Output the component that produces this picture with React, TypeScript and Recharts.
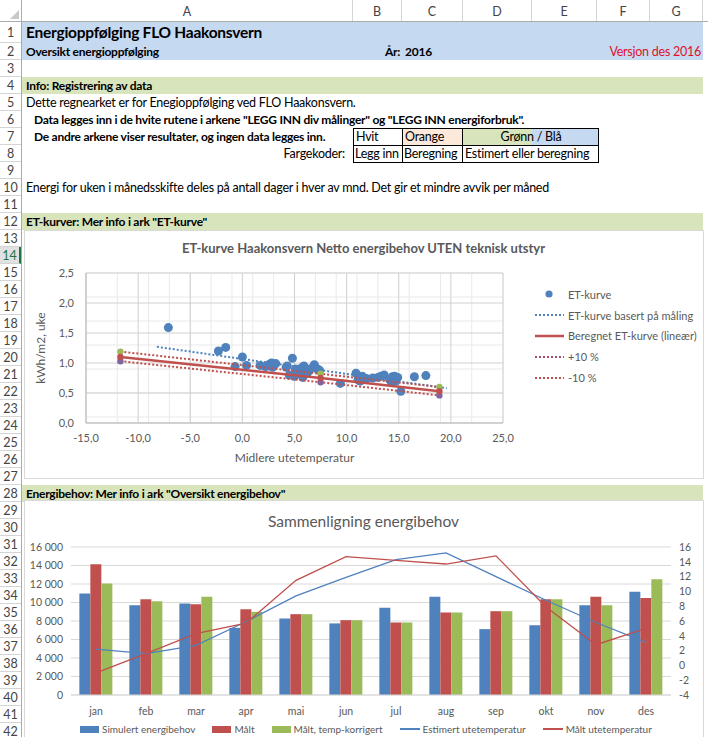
import React from "react";
import {
  ComposedChart,
  Scatter,
  Bar,
  Line,
  XAxis,
  YAxis,
  ZAxis,
  CartesianGrid,
  Legend,
} from "recharts";

const FONT = "Lato, 'Liberation Sans', sans-serif";
const BLUE = "#4f81bd";
const RED = "#c0504d";
const GREEN = "#9bbb59";
const PURPLE = "#8064a2";
const AXIS_TEXT = "#595959";

// ---- ET-kurve (målte ukepunkter) ----
const etTemp = [
  -7.1, -2.3, -1.6, -0.7, 0.0, 0.4, 1.7, 2.2, 2.4, 2.6, 2.8, 2.9, 3.0, 3.2,
  4.2, 4.3, 4.5, 4.8, 5.0, 5.1, 5.5, 5.6, 5.7, 5.8, 5.9, 6.0, 6.3, 6.6, 6.9,
  7.2, 7.4, 9.4, 10.9, 11.1, 11.3, 11.5, 11.9, 12.5, 13.0, 13.3, 13.6, 14.1,
  14.3, 14.4, 14.6, 14.7, 14.9, 15.2, 16.5, 17.6,
];
const etValue = [
  1.59, 1.2, 1.26, 0.94, 1.1, 0.96, 0.96, 0.94, 0.95, 0.98, 1.0, 0.93, 0.96,
  0.99, 0.93, 0.95, 0.8, 1.08, 0.78, 0.9, 0.87, 0.82, 0.92, 0.76, 0.95, 0.9,
  0.85, 0.91, 0.97, 0.9, 0.88, 0.66, 0.83, 0.72, 0.7, 0.78, 0.74, 0.75, 0.76,
  0.78, 0.8, 0.73, 0.68, 0.77, 0.78, 0.7, 0.76, 0.53, 0.77, 0.79,
];

// trendlinje basert på måling
const trendTemp = [-8.2, 19.6];
const trendValue = [1.27, 0.58];

// beregnet ET-kurve med +/- 10 %
const fitTemp = [-11.7, 7.5, 18.9];
const fitValue = [1.1, 0.75, 0.53];
const plusValue = [1.19, 0.82, 0.6];
const minusValue = [1.03, 0.68, 0.46];

const etXTicks = [-15, -10, -5, 0, 5, 10, 15, 20, 25];
const etYTicks = [0, 0.5, 1.0, 1.5, 2.0, 2.5];
const etXMinor = Array.from({ length: 41 }, (_, i) => i - 15);
const etYMinor = Array.from({ length: 26 }, (_, i) => Math.round(i * 10) / 100);

const etSeries = [
  "ET-kurve",
  "ET-kurve basert på måling",
  "Beregnet ET-kurve (lineær)",
  "+10 %",
  "-10 %",
];

// ---- Sammenligning energibehov ----
const months = ["jan", "feb", "mar", "apr", "mai", "jun", "jul", "aug", "sep", "okt", "nov", "des"];
const simulert = [10980, 9710, 9890, 7260, 8270, 7740, 9420, 10610, 7120, 7550, 9710, 11150];
const maalt = [14130, 10360, 9820, 9280, 8740, 8090, 7840, 8920, 9060, 10360, 10610, 10500];
const korrigert = [12050, 10140, 10610, 8990, 8740, 8090, 7840, 8920, 9060, 10360, 9710, 12520];
const estTemp = [2.2, 1.6, 2.7, 5.9, 9.4, 11.9, 14.3, 15.2, 12.0, 8.8, 5.8, 3.1];
const maaltTemp = [-1.0, 1.6, 4.3, 5.7, 11.5, 14.7, 14.2, 13.7, 14.8, 7.9, 2.8, 5.0];

const energyLeftTicks = [0, 2000, 4000, 6000, 8000, 10000, 12000, 14000, 16000];
const energyRightTicks = [-4, -2, 0, 2, 4, 6, 8, 10, 12, 14, 16];
const energySeries = [
  "Simulert energibehov",
  "Målt",
  "Målt, temp-korrigert",
  "Estimert utetemperatur",
  "Målt utetemperatur",
];

const etPoints = etTemp.map((t, i) => ({ t, v: etValue[i] }));
const trendPoints = trendTemp.map((t, i) => ({ t, v: trendValue[i] }));
const fitPoints = fitTemp.map((t, i) => ({ t, v: fitValue[i] }));
const plusPoints = fitTemp.map((t, i) => ({ t, v: plusValue[i] }));
const minusPoints = fitTemp.map((t, i) => ({ t, v: minusValue[i] }));

const energyRows = months.map((m, i) => ({
  month: m,
  sim: simulert[i],
  maalt: maalt[i],
  korr: korrigert[i],
  est: estTemp[i],
  mt: maaltTemp[i],
}));

const comma1 = (v: number) => v.toFixed(1).replace(".", ",");
const thousands = (v: number) =>
  v >= 1000 ? `${Math.floor(v / 1000)} ${String(v % 1000).padStart(3, "0")}` : String(v);

// ---- spreadsheet grid ----
const COL_EDGES = [22, 353, 402, 463, 532, 597, 650, 703];
const COLS = ["A", "B", "C", "D", "E", "F", "G"];
const ROWS = Array.from({ length: 42 }, (_, i) => i + 1);
const rowTop = (n: number) => (n === 1 ? 22 : 43 + (n - 2) * 17);
const rowH = (n: number) => (n === 1 ? 21 : 17);

function Txt(props: {
  row: number;
  x: number;
  w?: number;
  align?: "left" | "right" | "center";
  bold?: boolean;
  size?: number;
  color?: string;
  children: React.ReactNode;
}) {
  const { row, x, w = 600, align = "left", bold, size = 12.5, color = "#000" } = props;
  return (
    <div
      style={{
        position: "absolute",
        left: x,
        width: w,
        top: rowTop(row),
        height: rowH(row),
        lineHeight: `${rowH(row)}px`,
        fontSize: size,
        fontWeight: bold ? 700 : 400,
        color,
        textAlign: align,
        whiteSpace: "nowrap",
        letterSpacing: -0.25,
      }}
    >
      {props.children}
    </div>
  );
}

function Band({ row, color }: { row: number; color: string }) {
  return (
    <div
      style={{
        position: "absolute",
        left: 22,
        width: 681,
        top: rowTop(row),
        height: rowH(row),
        background: color,
      }}
    />
  );
}

const NoDot = () => null;
const markDot = (color: string) => (p: any) =>
  <circle cx={p.cx} cy={p.cy} r={3.2} fill={color} />;

function EtLegend() {
  const styles = [
    { kind: "dot", color: BLUE, dash: "" },
    { kind: "line", color: BLUE, dash: "2 2", w: 2 },
    { kind: "line", color: RED, dash: "", w: 2.5 },
    { kind: "line", color: "#a84a6a", dash: "2 2", w: 2 },
    { kind: "line", color: RED, dash: "2 2", w: 2 },
  ];
  return (
    <div style={{ fontFamily: FONT, fontSize: 11, color: AXIS_TEXT }}>
      {etSeries.map((name, i) => (
        <div key={name} style={{ display: "flex", alignItems: "center", height: 20.8 }}>
          <svg width={30} height={10} style={{ marginRight: 3 }}>
            {styles[i].kind === "dot" ? (
              <circle cx={14} cy={5} r={3.6} fill={styles[i].color} />
            ) : (
              <line
                x1={0}
                x2={29}
                y1={5}
                y2={5}
                stroke={styles[i].color}
                strokeWidth={styles[i].w}
                strokeDasharray={styles[i].dash || undefined}
              />
            )}
          </svg>
          <span>{name}</span>
        </div>
      ))}
    </div>
  );
}

function EnergyLegend() {
  const colors = [BLUE, RED, GREEN, BLUE, RED];
  return (
    <div
      style={{
        display: "flex",
        fontFamily: FONT,
        fontSize: 10,
        color: AXIS_TEXT,
        alignItems: "center",
        whiteSpace: "nowrap",
      }}
    >
      {energySeries.map((name, i) => (
        <div key={name} style={{ display: "flex", alignItems: "center", marginRight: 17 }}>
          {i < 3 ? (
            <div style={{ width: 19, height: 7, background: colors[i], marginRight: 3 }} />
          ) : (
            <div style={{ width: 20, height: 1.5, background: colors[i], marginRight: 3 }} />
          )}
          <span>{name}</span>
        </div>
      ))}
    </div>
  );
}

function EtChart() {
  return (
    <ComposedChart
      width={679}
      height={248}
      margin={{ top: 43, right: 200, bottom: 0, left: 0 }}
      style={{ fontFamily: FONT }}
    >
      <XAxis xAxisId="minor" type="number" dataKey="t" domain={[-15, 25]} ticks={etXMinor} hide allowDataOverflow />
      <YAxis yAxisId="minor" type="number" dataKey="v" domain={[0, 2.5]} ticks={etYMinor} hide allowDataOverflow />
      <CartesianGrid xAxisId="minor" yAxisId="minor" stroke="#e9e9e9" />
      <CartesianGrid stroke="#d0d0d0" />
      <XAxis
        type="number"
        dataKey="t"
        domain={[-15, 25]}
        ticks={etXTicks}
        interval={0}
        tickFormatter={comma1}
        tick={{ fill: AXIS_TEXT, fontSize: 11 }}
        tickLine={false}
        axisLine={{ stroke: "#bfbfbf" }}
        tickSize={9}
        height={55}
        allowDataOverflow
        label={(p: any) => (
          <text
            x={p.viewBox.x + p.viewBox.width / 2}
            y={p.viewBox.y + 39}
            textAnchor="middle"
            fill={AXIS_TEXT}
            fontSize={12}
            fontFamily={FONT}
          >
            Midlere utetemperatur
          </text>
        )}
      />
      <YAxis
        type="number"
        dataKey="v"
        domain={[0, 2.5]}
        ticks={etYTicks}
        interval={0}
        tickFormatter={comma1}
        tick={{ fill: AXIS_TEXT, fontSize: 11 }}
        tickLine={false}
        axisLine={{ stroke: "#bfbfbf" }}
        tickSize={10}
        width={62}
        allowDataOverflow
        label={(p: any) => (
          <text
            x={16}
            y={p.viewBox.y + p.viewBox.height / 2}
            transform={`rotate(-90 16 ${p.viewBox.y + p.viewBox.height / 2})`}
            textAnchor="middle"
            dominantBaseline="central"
            fill={AXIS_TEXT}
            fontSize={12}
            fontFamily={FONT}
          >
            kWh/m2, uke
          </text>
        )}
      />
      <ZAxis type="number" range={[44, 44]} />
      <Scatter name={etSeries[0]} data={etPoints} fill={BLUE} isAnimationActive={false} />
      <Scatter
        name={etSeries[1]}
        data={trendPoints}
        line={{ stroke: BLUE, strokeWidth: 2, strokeDasharray: "2 2" }}
        shape={NoDot}
        isAnimationActive={false}
      />
      <Scatter
        name={etSeries[3]}
        data={plusPoints}
        line={{ stroke: "#c0504d", strokeWidth: 2, strokeDasharray: "2 2" }}
        shape={markDot(GREEN)}
        isAnimationActive={false}
      />
      <Scatter
        name={etSeries[4]}
        data={minusPoints}
        line={{ stroke: "#c0504d", strokeWidth: 2, strokeDasharray: "2 2" }}
        shape={markDot(PURPLE)}
        isAnimationActive={false}
      />
      <Scatter
        name={etSeries[2]}
        data={fitPoints}
        line={{ stroke: RED, strokeWidth: 2.5 }}
        shape={markDot(RED)}
        isAnimationActive={false}
      />
      <Legend
        layout="horizontal"
        verticalAlign="middle"
        align="center"
        wrapperStyle={{ top: 54, left: 511, width: 170 }}
        content={() => <EtLegend />}
      />
    </ComposedChart>
  );
}

function EnergyChart() {
  return (
    <ComposedChart
      width={679}
      height={250}
      data={energyRows}
      margin={{ top: 47, right: 0, bottom: 25, left: 0 }}
      barCategoryGap="16.7%"
      barGap={0}
      style={{ fontFamily: FONT }}
    >
      <CartesianGrid vertical={false} yAxisId="left" stroke="#d9d9d9" />
      <XAxis
        dataKey="month"
        tick={{ fill: AXIS_TEXT, fontSize: 10.5 }}
        tickLine={false}
        axisLine={{ stroke: "#d9d9d9" }}
        tickMargin={7}
        height={30}
        interval={0}
      />
      <YAxis
        yAxisId="left"
        domain={[0, 16000]}
        ticks={energyLeftTicks}
        interval={0}
        tickFormatter={thousands}
        tick={{ fill: AXIS_TEXT, fontSize: 10.5 }}
        tickLine={false}
        axisLine={false}
        width={47}
      />
      <YAxis
        yAxisId="right"
        orientation="right"
        domain={[-4, 16]}
        ticks={energyRightTicks}
        interval={0}
        tick={{ fill: AXIS_TEXT, fontSize: 10.5 }}
        tickLine={false}
        axisLine={false}
        width={32}
      />
      <Bar yAxisId="left" dataKey="sim" name={energySeries[0]} fill={BLUE} isAnimationActive={false} />
      <Bar yAxisId="left" dataKey="maalt" name={energySeries[1]} fill={RED} isAnimationActive={false} />
      <Bar yAxisId="left" dataKey="korr" name={energySeries[2]} fill={GREEN} isAnimationActive={false} />
      <Line
        yAxisId="right"
        dataKey="est"
        name={energySeries[3]}
        stroke={BLUE}
        strokeWidth={1.3}
        dot={false}
        type="linear"
        isAnimationActive={false}
      />
      <Line
        yAxisId="right"
        dataKey="mt"
        name={energySeries[4]}
        stroke={RED}
        strokeWidth={1.3}
        dot={false}
        type="linear"
        isAnimationActive={false}
      />
      <Legend
        layout="horizontal"
        verticalAlign="middle"
        align="center"
        wrapperStyle={{ top: 223, left: 56, width: 620 }}
        content={() => <EnergyLegend />}
      />
    </ComposedChart>
  );
}

export default function App() {
  return (
    <div
      style={{
        position: "fixed",
        left: 0,
        top: 0,
        width: 708,
        height: 737,
        overflow: "hidden",
        background: "#fff",
        fontFamily: FONT,
      }}
    >
      {/* column headers */}
      <div style={{ position: "absolute", left: 0, top: 0, width: 708, height: 22, borderBottom: "1px solid #ababab", boxSizing: "border-box" }} />
      <svg style={{ position: "absolute", left: 0, top: 0 }} width={22} height={22}>
        <polygon points="19,10 19,19 10,19" fill="#c8c8c8" />
      </svg>
      {COLS.map((c, i) => (
        <div
          key={c}
          style={{
            position: "absolute",
            left: COL_EDGES[i],
            width: COL_EDGES[i + 1] - COL_EDGES[i],
            top: 0,
            height: 21,
            lineHeight: "23px",
            textAlign: "center",
            fontSize: 12.5,
            color: "#444",
            borderRight: "1px solid #d4d4d4",
            boxSizing: "border-box",
          }}
        >
          {c}
        </div>
      ))}

      {/* row headers */}
      <div style={{ position: "absolute", left: 21, top: 0, width: 1, height: 737, background: "#ababab" }} />
      {ROWS.map((r) => (
        <div
          key={r}
          style={{
            position: "absolute",
            left: 0,
            width: 21,
            top: rowTop(r),
            height: rowH(r),
            lineHeight: `${rowH(r)}px`,
            textAlign: "center",
            fontSize: 12.5,
            color: r === 14 ? "#217346" : "#444",
            background: r === 14 ? "#e1e1e1" : "transparent",
            borderBottom: "1px solid #d4d4d4",
            borderRight: r === 14 ? "2px solid #217346" : "none",
            boxSizing: "border-box",
          }}
        >
          {r}
        </div>
      ))}

      {/* bands */}
      <Band row={1} color="#c5d9f1" />
      <Band row={2} color="#c5d9f1" />
      <Band row={4} color="#d8e4bc" />
      <Band row={12} color="#d8e4bc" />
      <Band row={28} color="#d8e4bc" />

      <Txt row={1} x={26} bold size={15.5}>Energioppfølging FLO Haakonsvern</Txt>
      <Txt row={2} x={26} bold size={12}>Oversikt energioppfølging</Txt>
      <Txt row={2} x={385} bold size={12}>År:</Txt>
      <Txt row={2} x={405} bold size={12}>2016</Txt>
      <Txt row={2} x={400} w={301} align="right" size={12.5} color="#e0102c">Versjon des 2016</Txt>
      <Txt row={4} x={26} bold size={12}>Info: Registrering av data</Txt>
      <Txt row={5} x={26}>Dette regnearket er for Enegioppfølging ved FLO Haakonsvern.</Txt>
      <Txt row={6} x={34} bold size={12}>
        Data legges inn i de hvite rutene i arkene "LEGG INN div målinger" og "LEGG INN energiforbruk".
      </Txt>
      <Txt row={7} x={34} bold size={12}>De andre arkene viser resultater, og ingen data legges inn.</Txt>
      <Txt row={8} x={45} w={300} align="right">Fargekoder:</Txt>
      <Txt row={10} x={26}>
        Energi for uken i månedsskifte deles på antall dager i hver av mnd. Det gir et mindre avvik per måned
      </Txt>
      <Txt row={12} x={26} bold size={12}>ET-kurver: Mer info i ark "ET-kurve"</Txt>
      <Txt row={28} x={26} bold size={12}>Energibehov: Mer info i ark "Oversikt energibehov"</Txt>

      {/* fargekoder table */}
      <div style={{ position: "absolute", left: 402, top: rowTop(7), width: 61, height: 17, background: "#fde9d9" }} />
      <div style={{ position: "absolute", left: 463, top: rowTop(7), width: 69, height: 17, background: "#d8e4bc" }} />
      <div style={{ position: "absolute", left: 532, top: rowTop(7), width: 66, height: 17, background: "#c5d9f1" }} />
      <div style={{ position: "absolute", left: 353, top: rowTop(7), width: 246, height: 35, border: "1px solid #000", boxSizing: "border-box" }} />
      <div style={{ position: "absolute", left: 353, top: rowTop(8), width: 246, height: 1, background: "#000" }} />
      <div style={{ position: "absolute", left: 402, top: rowTop(7), width: 1, height: 35, background: "#000" }} />
      <div style={{ position: "absolute", left: 462, top: rowTop(7), width: 1, height: 35, background: "#000" }} />
      <Txt row={7} x={356}>Hvit</Txt>
      <Txt row={7} x={405}>Orange</Txt>
      <Txt row={7} x={463} w={136} align="center">Grønn / Blå</Txt>
      <Txt row={8} x={355}>Legg inn</Txt>
      <Txt row={8} x={404}>Beregning</Txt>
      <Txt row={8} x={465}>Estimert eller beregning</Txt>

      {/* ET chart */}
      <div style={{ position: "absolute", left: 24, top: 230, width: 679, height: 248, background: "#fff" }}>
        <EtChart />
        <div
          style={{
            position: "absolute",
            left: 0,
            top: 10,
            width: 679,
            textAlign: "center",
            fontSize: 13,
            fontWeight: 700,
            color: AXIS_TEXT,
          }}
        >
          ET-kurve Haakonsvern Netto energibehov UTEN teknisk utstyr
        </div>
      </div>
      <div style={{ position: "absolute", left: 24, top: 230, width: 680, height: 249, border: "1px solid #d9d9d9", boxSizing: "border-box", pointerEvents: "none" }} />

      {/* energy chart */}
      <div style={{ position: "absolute", left: 24, top: 500, width: 679, height: 250, background: "#fff" }}>
        <EnergyChart />
        <div
          style={{
            position: "absolute",
            left: 0,
            top: 12,
            width: 679,
            textAlign: "center",
            fontSize: 15.5,
            color: AXIS_TEXT,
          }}
        >
          Sammenligning energibehov
        </div>
      </div>
      <div style={{ position: "absolute", left: 24, top: 500, width: 680, height: 260, border: "1px solid #d9d9d9", boxSizing: "border-box", pointerEvents: "none" }} />
    </div>
  );
}
